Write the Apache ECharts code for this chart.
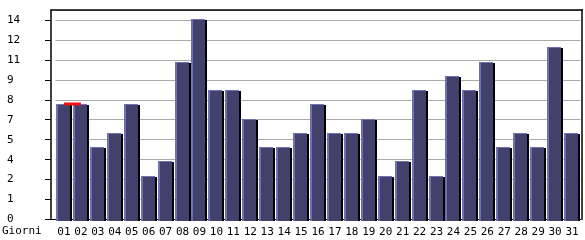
<!DOCTYPE html>
<html><head><meta charset="utf-8">
<script src="https://cdn.jsdelivr.net/npm/echarts@6/dist/echarts.min.js"></script>
<style>html,body{margin:0;padding:0;background:#fff}#c{width:585px;height:240px}</style>
</head><body><div id="c"></div>
<script>
const days = ['01','02','03','04','05','06','07','08','09','10','11','12','13','14','15','16','17','18','19','20','21','22','23','24','25','26','27','28','29','30','31'];
const values = [8,8,5,6,8,3,4,11,14,9,9,7,5,5,6,8,6,6,7,3,4,9,3,10,9,11,5,6,5,12,6];
const redMark = [8.1,8.1,null,null,null,null,null,null,null,null,null,null,null,null,null,null,null,null,null,null,null,null,null,null,null,null,null,null,null,null,null];
const xTitle = 'Giorni';

const chart = echarts.init(document.getElementById('c'), null, {renderer:'canvas'});
const font = 'DejaVu Sans Mono';
const LIGHT = '#7070b4', BODY = '#41416b', SHADOW = '#000';

function renderBar(params, api){
  const i = api.value(0), v = api.value(1);
  const top = api.coord([i, v]);
  const base = api.coord([i, 0]);
  const cw = api.size([1,0])[0];
  const w = Math.round(cw) - 1;
  const x0 = Math.round(top[0] - w/2);
  const yT = Math.round(top[1]) - 1;
  const yB = Math.round(base[1]) + 1;
  const h = yB - yT;
  return {type:'group', children:[
    {type:'rect', shape:{x:x0, y:yT, width:w-2, height:h}, style:{fill:BODY}},
    {type:'rect', shape:{x:x0, y:yT, width:2, height:h}, style:{fill:LIGHT}},
    {type:'rect', shape:{x:x0, y:yT, width:w-2, height:1}, style:{fill:LIGHT}},
    {type:'rect', shape:{x:x0+w-2, y:yT+1, width:2, height:h-1}, style:{fill:SHADOW}}
  ]};
}

chart.setOption({
  animation:false,
  grid:{left:55.5,right:4.5,top:10,bottom:20.5},
  xAxis:[{
    type:'category', data:days, boundaryGap:true,
    axisLine:{lineStyle:{color:'#000',width:1}},
    axisTick:{alignWithLabel:true,length:5,lineStyle:{color:'#000'}},
    axisLabel:{fontFamily:font,fontSize:11,color:'#000',margin:7,interval:0}
  }],
  yAxis:[{
    type:'value', min:0, max:14.7, interval:1.4, offset:4.5,
    axisLine:{show:true,lineStyle:{color:'#000',width:1.5}},
    axisTick:{show:true,length:6,lineStyle:{color:'#000'}},
    splitLine:{lineStyle:{color:'#aaaaaa',width:1}},
    axisLabel:{fontFamily:font,fontSize:11,color:'#000',align:'left',margin:44,showMaxLabel:false,
      formatter:v=>String(Math.floor(v+1e-9))}
  },{
    type:'value', min:0, max:14.7, position:'right', offset:1.5,
    axisLine:{show:true,lineStyle:{color:'#000',width:1.5}},
    axisTick:{show:false}, axisLabel:{show:false}, splitLine:{show:false}
  }],
  series:[{
    type:'custom', renderItem:renderBar, data:values.map((v,i)=>[i,v]),
    encode:{x:0,y:1}, z:3
  },{
    type:'line', data:redMark, symbol:'none', connectNulls:false,
    lineStyle:{color:'#ee1111',width:3}, z:5
  }],
  graphic:[
    {type:'line',shape:{x1:50.5,y1:10,x2:583,y2:10},style:{stroke:'#000',lineWidth:1.5},z:10},
    {type:'line',shape:{x1:50.5,y1:219.5,x2:56,y2:219.5},style:{stroke:'#000',lineWidth:1},z:1},
    {type:'text',left:2,top:226,style:{text:xTitle,fontFamily:font,fontSize:11,fill:'#000'}}
  ]
});
</script></body></html>
